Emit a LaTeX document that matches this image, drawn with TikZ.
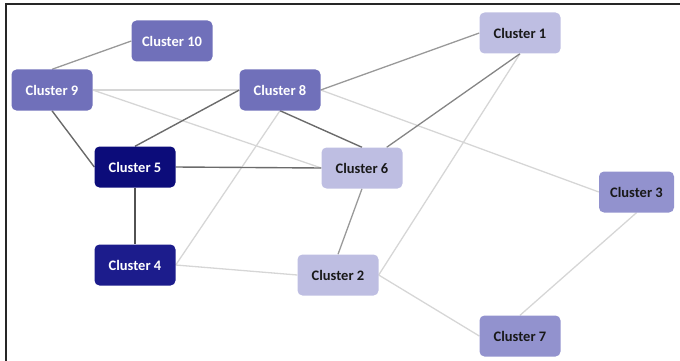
\documentclass[tikz,border=0pt]{standalone}
\usepackage{fontspec}
\setmainfont{Carlito}
\usetikzlibrary{positioning,backgrounds}
\definecolor{clnavy}{RGB}{12,12,122}
\definecolor{clblue}{RGB}{28,28,140}
\definecolor{clmid}{RGB}{112,112,186}
\definecolor{clsoft}{RGB}{146,146,206}
\definecolor{cllight}{RGB}{190,190,226}

\begin{document}
\begin{tikzpicture}[
    x=1pt, y=-1pt,
    cluster/.style={rectangle, rounded corners=5pt, minimum width=81pt, minimum height=41pt,
        inner sep=0, font=\fontsize{14.5}{17}\selectfont\bfseries},
    darkbox/.style={cluster, fill=#1, text=white},
    lightbox/.style={cluster, fill=#1, text=black!90},
    strong/.style={draw=black!58, line width=1.4pt},
    medium/.style={draw=black!40, line width=1.3pt},
    faint/.style={draw=black!16, line width=1.3pt}]
\useasboundingbox (0,0) rectangle (680,361);

% frame
\draw[black!85, line width=2pt] (5.5,361) -- (5.5,4.5) -- (680,4.5);

% clusters
\node (c10) [darkbox=clmid]  at (172,41)  {Cluster 10};
\node (c9)  [darkbox=clmid]  at (52,90)   {Cluster 9};
\node (c8)  [darkbox=clmid]  at (280,90)  {Cluster 8};
\node (c5)  [darkbox=clnavy] at (135,167) {Cluster 5};
\node (c4)  [darkbox=clblue] at (135,265) {Cluster 4};
\node (c6)  [lightbox=cllight] at (362,168) {Cluster 6};
\node (c2)  [lightbox=cllight] at (338,275) {Cluster 2};
\node (c1)  [lightbox=cllight] at (520,33)  {Cluster 1};
\node (c3)  [lightbox=clsoft, minimum width=75pt] at (636.5,192) {Cluster 3};
\node (c7)  [lightbox=clsoft]  at (520,336) {Cluster 7};

% links
\begin{scope}[on background layer]
\path[faint] (c9.east) -- (c8.west);
\path[faint] (c9.east) -- (c6.west);
\path[faint] (c8.east) -- (c3.west);
\path[faint] (c8.south) -- (c4.east);
\path[faint] (c1.south) -- (c2.east);
\path[faint] (c4.east) -- (c2.west);
\path[faint] (c2.east) -- (c7.west);
\path[faint] (c3.south) -- (c7.north);
\path[medium] (c9.north) -- (c10.west);
\path[medium] (c8.east) -- (c1.west);
\path[medium] (c6.south) -- (c2.north);
\path[draw=black!48, line width=1.3pt] (c1.south) -- (c6.40);
\path[strong] (c9.south) -- (c5.west);
\path[strong] (c8.west) -- (c5.north);
\path[strong] (c8.south) -- (c6.north);
\path[strong] (c5.east) -- (c6.west);
\path[draw=black!68, line width=1.5pt] (c5.south) -- (c4.north);
\end{scope}

\end{tikzpicture}
\end{document}
